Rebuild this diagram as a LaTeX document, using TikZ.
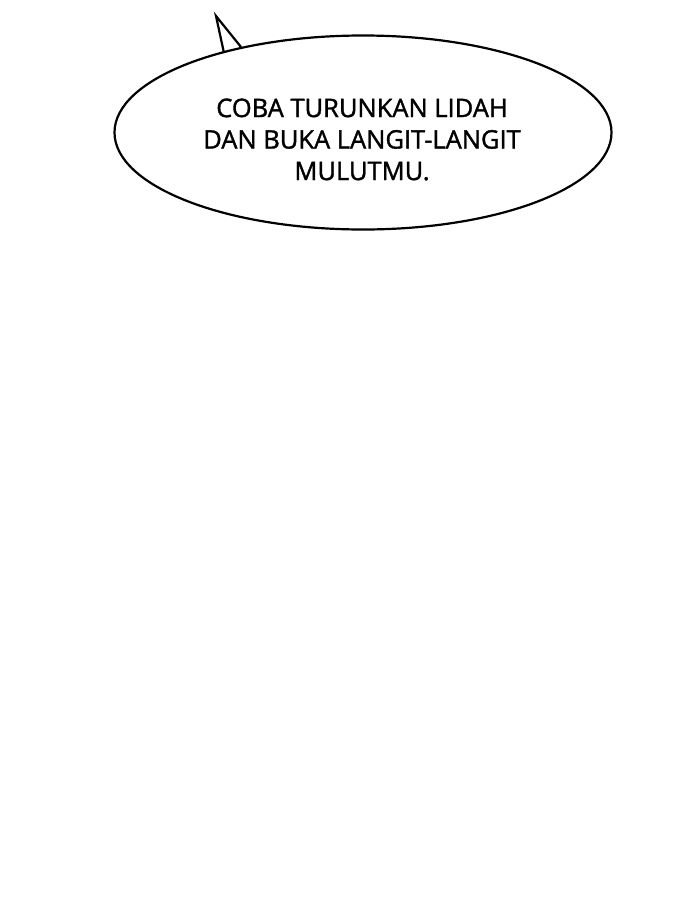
\documentclass[tikz,border=0pt]{standalone}
\usepackage{fontspec}
\newfontfamily\bubblefont{Open Sans}[FakeBold=1.4]
\usetikzlibrary{shapes.geometric}
\begin{document}
\begin{tikzpicture}[x=1pt,y=-1pt,
  bubble/.style={ellipse,draw=black,fill=white,line width=2.2pt,inner sep=0pt,
    minimum width=497pt,minimum height=194pt},
  speech/.style={font=\bubblefont\fontsize{25.5}{31.5}\selectfont,align=center,text=black}]
\useasboundingbox (0,0) rectangle (700,905);
\fill[white] (0,0) rectangle (700,905);
\node[bubble] (bub) at (363,132.5) {};
\coordinate (tl) at (224,53);
\coordinate (tip) at (216,16);
\coordinate (tr) at (241,47);
\fill[white] (tl) -- (tip) -- (tr) -- ([yshift=4pt]tr) -- ([yshift=4pt]tl) -- cycle;
\draw[line width=2.2pt,line join=miter] (tl) -- (tip) -- (tr);
\node[speech] (txt) at (362,139.5) {COBA TURUNKAN LIDAH\\DAN BUKA LANGIT-LANGIT\\MULUTMU.};
\end{tikzpicture}
\end{document}
